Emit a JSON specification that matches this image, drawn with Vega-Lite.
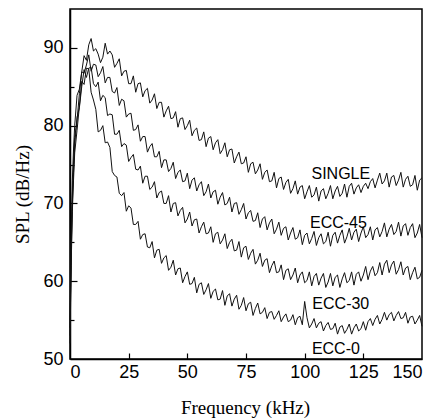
{
"$schema": "https://vega.github.io/schema/vega-lite/v6.json",
"width": 352, "height": 350,
"autosize": {"type": "none"},
"padding": {"left": 70, "top": 9, "right": 18, "bottom": 61},
"background": "white",
"config": {
  "view": {"stroke": "black", "strokeWidth": 1.5},
  "axis": {"grid": false, "domainColor": "black", "domainWidth": 1.5, "tickColor": "black", "tickWidth": 1.2, "labelColor": "black", "titleColor": "black", "labelFont": "Liberation Sans", "labelFontSize": 18, "titleFont": "Liberation Serif", "titleFontSize": 19, "titleFontWeight": "normal"}
},
"datasets": {
"spec": [
{"f":0,"S":55,"A":54,"B":53,"C":52},
{"f":0.5,"S":66,"A":64,"B":63,"C":62},
{"f":1,"S":73,"A":71,"B":70,"C":69},
{"f":1.5,"S":77,"A":75,"B":74,"C":73},
{"f":2,"S":80,"A":78.5,"B":77.5,"C":76.5},
{"f":3,"S":83.9,"A":80.6,"B":81.1,"C":79.4},
{"f":4,"S":84.7,"A":84.1,"B":82.3,"C":82.5},
{"f":5,"S":86.9,"A":86.9,"B":85.0,"C":85.7},
{"f":6,"S":89.0,"A":86.8,"B":87.2,"C":85.3},
{"f":7,"S":88.4,"A":87.8,"B":86.2,"C":87.4},
{"f":8,"S":90.4,"A":89.1,"B":87.4,"C":87.3},
{"f":9,"S":91.2,"A":87.0,"B":87.5,"C":84.3},
{"f":10,"S":89.6,"A":87.9,"B":85.4,"C":83.3},
{"f":11,"S":89.9,"A":87.8,"B":85.0,"C":82.1},
{"f":12,"S":89.2,"A":86.3,"B":85.6,"C":79.2},
{"f":13,"S":88.1,"A":86.8,"B":83.2,"C":79.4},
{"f":14,"S":88.8,"A":87.6,"B":83.9,"C":80.0},
{"f":15,"S":90.6,"A":85.5,"B":83.6,"C":77.8},
{"f":16,"S":89.2,"A":86.2,"B":81.3,"C":77.9},
{"f":17,"S":89.6,"A":86.2,"B":81.5,"C":77.2},
{"f":18,"S":89.1,"A":84.4,"B":81.4,"C":74.1},
{"f":19,"S":87.5,"A":84.2,"B":78.9,"C":73.6},
{"f":20,"S":88.0,"A":84.9,"B":78.9,"C":73.4},
{"f":21,"S":88.6,"A":82.6,"B":79.4,"C":71.3},
{"f":22,"S":86.4,"A":83.4,"B":77.3,"C":71.0},
{"f":23,"S":87.0,"A":83.2,"B":77.7,"C":71.4},
{"f":24,"S":87.1,"A":81.1,"B":77.5,"C":69.0},
{"f":25,"S":85.4,"A":81.5,"B":75.4,"C":69.7},
{"f":26,"S":85.4,"A":81.6,"B":75.9,"C":69.4},
{"f":27,"S":86.4,"A":79.4,"B":76.3,"C":67.3},
{"f":28,"S":84.3,"A":79.5,"B":74.4,"C":67.3},
{"f":29,"S":85.4,"A":80.1,"B":74.3,"C":67.7},
{"f":30,"S":85.5,"A":78.0,"B":74.8,"C":65.4},
{"f":31,"S":83.7,"A":78.6,"B":72.6,"C":66.0},
{"f":32,"S":84.5,"A":78.6,"B":73.5,"C":66.1},
{"f":33,"S":84.8,"A":76.6,"B":73.5,"C":64.4},
{"f":34,"S":82.9,"A":77.3,"B":71.8,"C":64.3},
{"f":35,"S":83.3,"A":77.7,"B":72.1,"C":65.1},
{"f":36,"S":84.1,"A":76.0,"B":72.8,"C":63.0},
{"f":37,"S":82.2,"A":76.0,"B":70.7,"C":64.0},
{"f":38,"S":83.0,"A":76.7,"B":71.4,"C":64.1},
{"f":39,"S":83.0,"A":74.6,"B":71.6,"C":62.3},
{"f":40,"S":81.1,"A":75.6,"B":70.0,"C":63.0},
{"f":41,"S":81.9,"A":75.6,"B":70.0,"C":63.3},
{"f":42,"S":82.5,"A":74.1,"B":71.0,"C":61.4},
{"f":43,"S":80.9,"A":74.5,"B":68.9,"C":61.8},
{"f":44,"S":81.0,"A":75.3,"B":70.0,"C":62.7},
{"f":45,"S":81.8,"A":73.2,"B":70.1,"C":60.8},
{"f":46,"S":79.8,"A":74.0,"B":68.4,"C":61.6},
{"f":47,"S":80.9,"A":74.3,"B":69.1,"C":61.7},
{"f":48,"S":81.0,"A":72.8,"B":69.5,"C":59.8},
{"f":49,"S":79.5,"A":72.9,"B":67.5,"C":60.6},
{"f":50,"S":80.0,"A":73.9,"B":68.0,"C":61.2},
{"f":51,"S":80.7,"A":71.9,"B":68.9,"C":59.6},
{"f":52,"S":78.7,"A":73.0,"B":67.1,"C":59.7},
{"f":53,"S":79.4,"A":73.3,"B":67.9,"C":60.5},
{"f":54,"S":79.7,"A":71.6,"B":68.0,"C":58.5},
{"f":55,"S":78.1,"A":72.4,"B":66.2,"C":59.6},
{"f":56,"S":78.2,"A":72.8,"B":67.0,"C":59.8},
{"f":57,"S":79.2,"A":71.0,"B":67.6,"C":58.3},
{"f":58,"S":77.3,"A":71.5,"B":66.1,"C":58.9},
{"f":59,"S":78.4,"A":72.5,"B":66.2,"C":59.7},
{"f":60,"S":78.6,"A":70.7,"B":67.0,"C":57.8},
{"f":61,"S":76.9,"A":71.5,"B":65.0,"C":58.7},
{"f":62,"S":77.8,"A":71.7,"B":66.1,"C":59.0},
{"f":63,"S":78.2,"A":69.9,"B":66.3,"C":57.6},
{"f":64,"S":76.4,"A":70.8,"B":64.8,"C":57.7},
{"f":65,"S":76.9,"A":71.4,"B":65.3,"C":58.8},
{"f":66,"S":77.8,"A":69.8,"B":66.1,"C":56.9},
{"f":67,"S":76.0,"A":70.0,"B":64.2,"C":58.1},
{"f":68,"S":76.9,"A":70.8,"B":65.0,"C":58.4},
{"f":69,"S":77.0,"A":68.9,"B":65.4,"C":56.8},
{"f":70,"S":75.2,"A":70.0,"B":63.9,"C":57.7},
{"f":71,"S":76.0,"A":70.1,"B":64.0,"C":58.2},
{"f":72,"S":76.6,"A":68.6,"B":65.1,"C":56.4},
{"f":73,"S":75.1,"A":69.2,"B":63.1,"C":56.9},
{"f":74,"S":75.2,"A":70.0,"B":64.3,"C":57.9},
{"f":75,"S":76.0,"A":68.0,"B":64.5,"C":56.2},
{"f":76,"S":74.0,"A":68.8,"B":62.8,"C":57.1},
{"f":77,"S":75.1,"A":69.1,"B":63.6,"C":57.3},
{"f":78,"S":75.3,"A":67.7,"B":64.1,"C":55.6},
{"f":79,"S":73.8,"A":67.8,"B":62.2,"C":56.5},
{"f":80,"S":74.3,"A":68.8,"B":62.7,"C":57.2},
{"f":81,"S":75.1,"A":66.9,"B":63.6,"C":55.8},
{"f":82,"S":73.1,"A":68.0,"B":61.9,"C":56.0},
{"f":83,"S":74.0,"A":68.3,"B":62.7,"C":56.6},
{"f":84,"S":74.3,"A":66.6,"B":62.9,"C":55.2},
{"f":85,"S":72.8,"A":67.5,"B":61.1,"C":56.0},
{"f":86,"S":72.9,"A":68.0,"B":62.0,"C":56.1},
{"f":87,"S":74.0,"A":66.1,"B":62.6,"C":55.1},
{"f":88,"S":72.0,"A":66.7,"B":61.1,"C":55.6},
{"f":89,"S":73.2,"A":67.6,"B":61.2,"C":56.2},
{"f":90,"S":73.4,"A":65.9,"B":62.1,"C":54.8},
{"f":91,"S":71.8,"A":66.8,"B":60.2,"C":55.4},
{"f":92,"S":72.7,"A":67.0,"B":61.4,"C":55.8},
{"f":93,"S":73.1,"A":65.3,"B":61.6,"C":54.8},
{"f":94,"S":71.3,"A":66.2,"B":60.2,"C":55.0},
{"f":95,"S":71.9,"A":66.9,"B":60.8,"C":55.7},
{"f":96,"S":72.9,"A":65.4,"B":61.7,"C":54.4},
{"f":97,"S":71.2,"A":65.6,"B":59.8,"C":55.3},
{"f":98,"S":72.1,"A":66.6,"B":60.8,"C":55.5},
{"f":99,"S":72.3,"A":64.7,"B":61.2,"C":54.4},
{"f":100,"S":70.6,"A":65.9,"B":59.8,"C":57.4},
{"f":101,"S":71.5,"A":66.2,"B":60.1,"C":55.3},
{"f":102,"S":72.3,"A":64.8,"B":61.2,"C":54.0},
{"f":103,"S":70.8,"A":65.5,"B":59.4,"C":54.5},
{"f":104,"S":71.1,"A":66.4,"B":60.6,"C":55.2},
{"f":105,"S":72.1,"A":64.6,"B":61.0,"C":54.0},
{"f":106,"S":70.3,"A":65.6,"B":59.5,"C":54.6},
{"f":107,"S":71.6,"A":66.1,"B":60.4,"C":54.8},
{"f":108,"S":71.9,"A":64.8,"B":61.0,"C":53.6},
{"f":109,"S":70.6,"A":65.1,"B":59.2,"C":54.3},
{"f":110,"S":71.3,"A":66.3,"B":59.9,"C":54.7},
{"f":111,"S":72.3,"A":64.5,"B":61.0,"C":53.8},
{"f":112,"S":70.6,"A":65.9,"B":59.4,"C":53.9},
{"f":113,"S":71.6,"A":66.3,"B":60.5,"C":54.6},
{"f":114,"S":72.2,"A":64.9,"B":60.8,"C":53.2},
{"f":115,"S":70.9,"A":65.9,"B":59.2,"C":54.1},
{"f":116,"S":71.3,"A":66.6,"B":60.3,"C":54.3},
{"f":117,"S":72.5,"A":64.9,"B":61.1,"C":53.3},
{"f":118,"S":70.8,"A":65.7,"B":59.8,"C":53.8},
{"f":119,"S":72.2,"A":66.8,"B":60.1,"C":54.5},
{"f":120,"S":72.6,"A":65.3,"B":61.2,"C":53.2},
{"f":121,"S":71.2,"A":66.3,"B":59.5,"C":54.0},
{"f":122,"S":72.0,"A":66.7,"B":60.9,"C":54.5},
{"f":123,"S":72.4,"A":65.1,"B":61.2,"C":53.6},
{"f":124,"S":71.4,"A":66.2,"B":60.0,"C":53.9},
{"f":125,"S":72.2,"A":67.0,"B":60.8,"C":54.8},
{"f":126,"S":72.6,"A":65.6,"B":61.9,"C":53.7},
{"f":127,"S":71.9,"A":66.0,"B":60.2,"C":54.8},
{"f":128,"S":72.8,"A":67.0,"B":61.3,"C":55.2},
{"f":129,"S":73.2,"A":65.3,"B":61.9,"C":54.3},
{"f":130,"S":72.0,"A":66.6,"B":60.7,"C":55.1},
{"f":131,"S":73.0,"A":66.9,"B":61.1,"C":55.6},
{"f":132,"S":73.9,"A":65.7,"B":62.4,"C":54.5},
{"f":133,"S":72.5,"A":66.4,"B":60.8,"C":55.1},
{"f":134,"S":72.9,"A":67.5,"B":62.2,"C":56.0},
{"f":135,"S":73.9,"A":65.7,"B":62.7,"C":55.0},
{"f":136,"S":72.1,"A":66.7,"B":61.1,"C":55.7},
{"f":137,"S":73.4,"A":67.3,"B":62.1,"C":56.0},
{"f":138,"S":73.6,"A":66.0,"B":62.6,"C":54.9},
{"f":139,"S":72.3,"A":66.4,"B":60.9,"C":55.6},
{"f":140,"S":73.0,"A":67.6,"B":61.5,"C":56.1},
{"f":141,"S":74.0,"A":65.8,"B":62.5,"C":55.2},
{"f":142,"S":72.1,"A":67.1,"B":60.8,"C":55.3},
{"f":143,"S":73.1,"A":67.4,"B":61.7,"C":56.0},
{"f":144,"S":73.5,"A":65.9,"B":61.9,"C":54.6},
{"f":145,"S":72.2,"A":66.9,"B":60.2,"C":55.4},
{"f":146,"S":72.4,"A":67.4,"B":61.1,"C":55.5},
{"f":147,"S":73.6,"A":65.6,"B":61.8,"C":54.5},
{"f":148,"S":71.7,"A":66.2,"B":60.3,"C":55.0},
{"f":149,"S":73.0,"A":67.3,"B":60.5,"C":55.6},
{"f":150,"S":73.3,"A":65.6,"B":61.4,"C":54.2}
],
"labels": [
{"f":115.4,"v":73.8,"t":"SINGLE"},
{"f":114.4,"v":67.5,"t":"ECC-45"},
{"f":115.4,"v":57.1,"t":"ECC-30"},
{"f":113.3,"v":51.3,"t":"ECC-0"}
]
},
"layer": [
{
  "data": {"name": "spec"},
  "transform": [{"fold": ["S", "A", "B", "C"], "as": ["k", "v"]}],
  "mark": {"type": "line", "color": "#111111", "strokeWidth": 1},
  "encoding": {
    "x": {"field": "f", "type": "quantitative", "scale": {"domain": [0, 150], "nice": false},
      "axis": {"orient": "bottom", "values": [0,25,50,75,100,125,150], "ticks": false, "tickSize": 0, "labelPadding": 4, "labelBaseline": "top", "title": "Frequency (kHz)", "titleX": 175, "titleY": 54, "titleBaseline": "alphabetic", "titleAlign": "center"}},
    "y": {"field": "v", "type": "quantitative", "scale": {"domain": [50, 95], "nice": false, "zero": false},
      "axis": {"orient": "left", "values": [50,60,70,80,90], "ticks": false, "tickSize": 0, "labelPadding": 7, "title": "SPL (dB/Hz)", "titleAngle": -90, "titleX": -57, "titleY": 185, "titleBaseline": "top", "titleAlign": "center"}},
    "detail": {"field": "k"}
  }
},
{
  "data": {"name": "labels"},
  "mark": {"type": "text", "font": "Liberation Sans", "fontSize": 16, "color": "black", "align": "center", "baseline": "middle"},
  "encoding": {
    "x": {"field": "f", "type": "quantitative", "scale": {"domain": [0, 150], "nice": false},
      "axis": {"orient": "top", "offset": -350, "values": [25,50,75,100,125], "tickSize": 6, "labels": false, "domain": false, "title": null}},
    "y": {"field": "v", "type": "quantitative", "scale": {"domain": [50, 95], "nice": false, "zero": false},
      "axis": {"orient": "right", "offset": -352, "values": [60,70,80,90], "tickSize": 7, "labels": false, "domain": false, "title": null}},
    "text": {"field": "t"}
  }
},
{
  "data": {"name": "labels"},
  "mark": {"type": "text", "opacity": 0, "fontSize": 16},
  "encoding": {
    "x": {"field": "f", "type": "quantitative", "scale": {"domain": [0, 150], "nice": false}, "axis": null},
    "y": {"field": "v", "type": "quantitative", "scale": {"domain": [50, 95], "nice": false, "zero": false},
      "axis": {"orient": "right", "offset": -352, "values": [55,65,75,85], "tickSize": 4, "labels": false, "domain": false, "title": null}},
    "text": {"field": "t"}
  }
}
],
"resolve": {"axis": {"x": "independent", "y": "independent"}}
}
